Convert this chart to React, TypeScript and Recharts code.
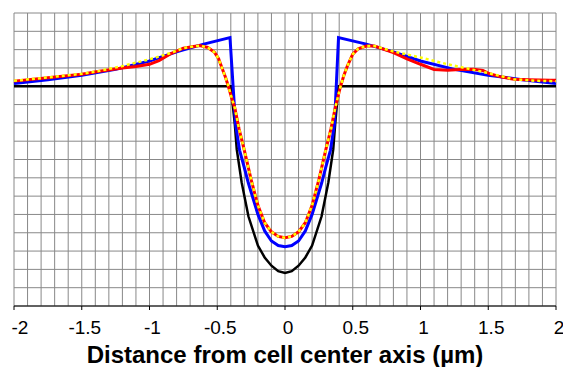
import { LineChart, Line, XAxis, YAxis, CartesianGrid, Label, ReferenceLine } from "recharts";

// x positions in µm, values in arbitrary units
const xTicks = [-2, -1.5, -1, -0.5, 0, 0.5, 1, 1.5, 2];
const gridX = Array.from({ length: 41 }, (_, i) => Math.round((-2 + i * 0.1) * 10) / 10);
const gridY = Array.from({ length: 17 }, (_, i) => -12 + i);

const blackX = [-2, -0.4, -0.37, -0.356, -0.32, -0.27, -0.2, -0.15, -0.1, -0.05, 0, 0.05, 0.1, 0.15, 0.2, 0.27, 0.32, 0.356, 0.37, 0.395, 2];
const blackY = [0, 0, -2.1, -3.45, -5.25, -7.1, -8.7, -9.35, -9.8, -10.1, -10.2, -10.1, -9.8, -9.35, -8.7, -7.1, -5.25, -3.45, -2.1, 0, 0];

const blueX = [-2, -1.75, -1.5, -1.25, -1, -0.8, -0.6, -0.406, -0.365, -0.335, -0.3, -0.27, -0.2, -0.15, -0.1, -0.05, 0, 0.05, 0.1, 0.15, 0.2, 0.27, 0.3, 0.335, 0.365, 0.395, 0.6, 0.8, 1, 1.25, 1.5, 1.75, 2];
const blueY = [0.15, 0.36, 0.6, 0.92, 1.38, 1.88, 2.3, 2.66, -2.1, -3.5, -4.45, -5.3, -7.0, -7.9, -8.45, -8.7, -8.76, -8.7, -8.45, -7.9, -7.0, -5.3, -4.45, -3.5, -2.1, 2.66, 2.3, 1.88, 1.38, 0.92, 0.6, 0.36, 0.15];

const redX = [-2, -1.75, -1.5, -1.37, -1.2, -1.1, -1.0, -0.93, -0.85, -0.75, -0.63, -0.57, -0.52, -0.49, -0.465, -0.44, -0.418, -0.395, -0.37, -0.34, -0.3, -0.25, -0.2, -0.15, -0.1, -0.05, 0,
  0.05, 0.1, 0.15, 0.2, 0.25, 0.3, 0.34, 0.37, 0.39, 0.41, 0.435, 0.46, 0.5, 0.54, 0.6, 0.66, 0.8, 0.9, 1.0, 1.1, 1.2, 1.29, 1.39, 1.46, 1.51, 1.6, 1.69, 1.8, 1.96, 2];
const redY = [0.28, 0.46, 0.66, 0.82, 1.0, 1.08, 1.2, 1.4, 1.75, 2.08, 2.22, 2.12, 1.85, 1.5, 1.0, 0.5, 0, -0.6, -1.2, -2.3, -3.5, -5.1, -6.5, -7.45, -7.95, -8.2, -8.27,
  -8.2, -7.95, -7.45, -6.5, -5.1, -3.5, -2.3, -1.2, -0.6, 0, 0.6, 1.1, 1.75, 2.05, 2.2, 2.2, 1.84, 1.5, 1.2, 0.92, 0.87, 0.92, 0.93, 0.86, 0.68, 0.5, 0.38, 0.35, 0.33, 0.33];

const yellowX = [-2, -1.75, -1.5, -1.37, -1.2, -1.0, -0.85, -0.75, -0.63, -0.57, -0.52, -0.49, -0.465, -0.44, -0.418, -0.395, -0.37, -0.34, -0.3, -0.25, -0.2, -0.15, -0.1, -0.05, 0,
  0.05, 0.1, 0.15, 0.2, 0.25, 0.3, 0.34, 0.37, 0.39, 0.41, 0.435, 0.46, 0.5, 0.54, 0.6, 0.66, 0.8, 1.0, 1.2, 1.37, 1.5, 1.69, 1.85, 2];
const yellowY = [0.3, 0.48, 0.68, 0.84, 1.1, 1.47, 1.8, 2.08, 2.22, 2.12, 1.85, 1.5, 1.0, 0.5, 0, -0.6, -1.2, -2.3, -3.5, -5.1, -6.5, -7.45, -7.95, -8.2, -8.27,
  -8.2, -7.95, -7.45, -6.5, -5.1, -3.5, -2.3, -1.2, -0.6, 0, 0.6, 1.1, 1.75, 2.05, 2.2, 2.2, 1.9, 1.57, 1.2, 0.93, 0.72, 0.38, 0.3, 0.27];

const toPoints = (xs: number[], ys: number[]) => xs.map((x, i) => ({ x, y: ys[i] }));

const font = "'Liberation Sans', Arial, sans-serif";

function XTick(props: any) {
  const { x, y, payload } = props;
  // first label sits inside the plot edge
  const nudge = payload.value === -2 ? 6 : 3;
  return (
    <text x={x + nudge} y={y} dy={22} textAnchor="middle" fontSize={19} fontFamily={font} fill="#000">
      {payload.value}
    </text>
  );
}

export default function App() {
  return (
    <div style={{ position: "fixed", left: 0, top: 0, background: "#fff" }}>
      <LineChart width={563} height={367} margin={{ top: 13, right: 7, left: 14, bottom: 0 }}>
        <CartesianGrid stroke="#888" strokeWidth={1} vertical={false} />
        {/* vertical grid every 0.1 µm */}
        {gridX.map((v) => (
          <ReferenceLine key={v} x={v} stroke="#888" strokeWidth={1} zIndex={-50} />
        ))}
        <XAxis
          type="number"
          dataKey="x"
          domain={[-2, 2]}
          ticks={xTicks}
          height={61}
          interval={0}
          axisLine={{ stroke: "#000", strokeWidth: 1 }}
          tickLine={{ stroke: "#000" }}
          tickSize={4}
          tick={<XTick />}
        >
          <Label
            value="Distance from cell center axis (µm)"
            position="insideBottom"
            offset={4}
            style={{ fontFamily: font, fontSize: 24, fontWeight: "bold", fill: "#000" }}
          />
        </XAxis>
        <YAxis type="number" domain={[-12, 4]} ticks={gridY} interval={0} hide width={0} />
        <Line data={toPoints(blackX, blackY)} dataKey="y" type="linear" stroke="#000" strokeWidth={2.5} dot={false} isAnimationActive={false} />
        <Line data={toPoints(blueX, blueY)} dataKey="y" type="linear" stroke="#0000ff" strokeWidth={3} dot={false} isAnimationActive={false} />
        <Line data={toPoints(redX, redY)} dataKey="y" type="linear" stroke="#ff0000" strokeWidth={3} dot={false} isAnimationActive={false} />
        <Line data={toPoints(yellowX, yellowY)} dataKey="y" type="linear" stroke="#ffff00" strokeWidth={2.5} strokeDasharray="3 3" dot={false} isAnimationActive={false} />
      </LineChart>
    </div>
  );
}
